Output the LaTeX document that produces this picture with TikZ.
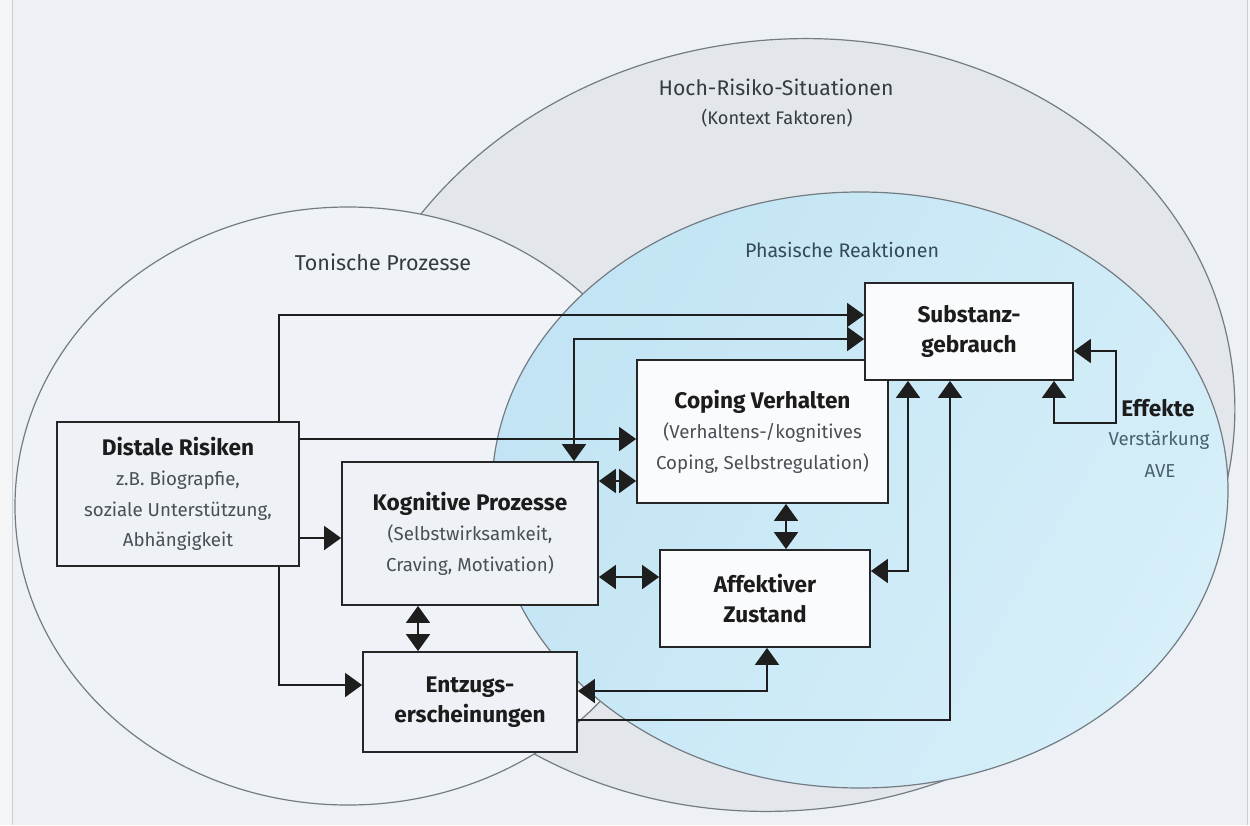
\documentclass[tikz,border=0pt]{standalone}
\usepackage{fontspec}
\setmainfont{Fira Sans}
\usetikzlibrary{arrows.meta}

\definecolor{outerbg}{HTML}{F3F5F7}
\definecolor{pagebg}{HTML}{EDF1F5}
\definecolor{pageedge}{HTML}{C9CED3}
\definecolor{riskfill}{HTML}{E3E7EB}
\definecolor{tonicfill}{HTML}{EFF2F6}
\definecolor{phaseA}{HTML}{C2E4F4}
\definecolor{phaseB}{HTML}{D6EFF9}
\definecolor{ringline}{HTML}{737B83}
\definecolor{boxline}{HTML}{262626}
\definecolor{wirecol}{HTML}{1E1E1E}
\definecolor{greybox}{HTML}{EEF2F6}
\definecolor{whitebox}{HTML}{FAFBFC}
\definecolor{titleblack}{HTML}{1C1C1C}
\definecolor{bodygrey}{HTML}{4A4F56}
\definecolor{labelgrey}{HTML}{353A40}
\definecolor{labelblue}{HTML}{34495B}
\definecolor{notegrey}{HTML}{4C5F6E}

\newcommand\boxtitle{\fontsize{22.6}{31}\selectfont\bfseries\color{titleblack}}
\newcommand\boxbody{\fontsize{18.7}{30.5}\selectfont}

\begin{document}
\begin{tikzpicture}[x=1pt,y=-1pt,
  ring/.style={draw=ringline, line width=1.2pt},
  box/.style={draw=boxline, line width=1.8pt, align=center, inner sep=0pt,
              font=\boxbody, text=bodygrey},
  greyrect/.style={box, fill=greybox},
  whiterect/.style={box, fill=whitebox},
  wire/.style={draw=wirecol, line width=1.8pt},
  onehead/.style={wire, -{Triangle[length=17pt,width=24pt]}},
  twoheads/.style={wire, {Triangle[length=17pt,width=24pt]}-{Triangle[length=17pt,width=24pt]}},
  label/.style={inner sep=0pt, font=\fontsize{20.5}{24}\selectfont, text=labelgrey}
]
\useasboundingbox (0,0) rectangle (1250,825);

% paper
\fill[outerbg] (0,0) rectangle (1250,825);
\fill[pagebg] (12,0) rectangle (1247,825);
\draw[pageedge, line width=0.8pt] (12,0) -- (12,825);
\draw[pageedge, line width=0.8pt] (1247,0) -- (1247,825);

% context ellipse (high risk situations)
\draw[ring, fill=riskfill] [shift={(786,425)}, rotate=8] (0,0) ellipse [x radius=450pt, y radius=385pt];
% tonic processes
\draw[ring, fill=tonicfill] (348,506) ellipse [x radius=333pt, y radius=299pt];
% phasic reactions
\shade[left color=phaseA, right color=phaseB, shading angle=60] (860,490) ellipse [x radius=368pt, y radius=298pt];
\draw[ring] (860,490) ellipse [x radius=368pt, y radius=298pt];

% region labels
\node[label, font=\fontsize{21.2}{26}\selectfont] (hrs) at (776,87) {Hoch-Risiko-Situationen};
\node[label, font=\fontsize{18.2}{22}\selectfont] (ctx) at (777,118) {(Kontext Faktoren)};
\node[label, font=\fontsize{21.5}{26}\selectfont] (ton) at (383,262) {Tonische Prozesse};
\node[label, font=\fontsize{19.6}{24}\selectfont, text=labelblue] (pha) at (842,250) {Phasische Reaktionen};

% boxes
\node[greyrect, minimum width=242pt, minimum height=144pt] (dist) at (178,494)
  {{\boxtitle Distale Risiken}\\ z.B. Biograpfie,\\ soziale Unterstützung,\\ Abhängigkeit};
\node[greyrect, minimum width=256pt, minimum height=143pt] (kog) at (470,533.5)
  {{\boxtitle Kognitive Prozesse}\\ (Selbstwirksamkeit,\\ Craving, Motivation)};
\node[whiterect, minimum width=251pt, minimum height=143pt] (cop) at (762.5,431.5)
  {{\boxtitle Coping Verhalten}\\ (Verhaltens-/kognitives\\ Coping, Selbstregulation)};
\node[whiterect, minimum width=208pt, minimum height=97pt] (sub) at (969,331.5)
  {{\boxtitle Substanz-}\\ {\boxtitle gebrauch}};
\node[whiterect, minimum width=210pt, minimum height=97pt] (aff) at (765,598.5)
  {{\boxtitle Affektiver}\\ {\boxtitle Zustand}};
\node[greyrect, minimum width=214pt, minimum height=100pt] (ent) at (470,702)
  {{\boxtitle Entzugs-}\\ {\boxtitle erscheinungen}};

% effects note
\node[inner sep=0pt, font=\boxtitle] (eff) at (1158,408) {Effekte};
\node[inner sep=0pt, font=\boxbody, text=notegrey] (verst) at (1159,440) {Verstärkung};
\node[inner sep=0pt, font=\boxbody, text=notegrey] (ave) at (1160,471) {AVE};

% routing columns and rows
\coordinate (xa) at (279,0);
\coordinate (xk) at (574,0);
\coordinate (xke) at (418,0);
\coordinate (xca) at (786,0);
\coordinate (xas) at (908,0);
\coordinate (xes) at (950,0);
\coordinate (xae) at (767,0);
\coordinate (xl) at (1054,0);
\coordinate (xr) at (1116,0);
\coordinate (ya) at (0,315);
\coordinate (yb) at (0,339);
\coordinate (ydc) at (0,439);
\coordinate (ydk) at (0,538);
\coordinate (yde) at (0,685);
\coordinate (ykc) at (0,481);
\coordinate (yka) at (0,577);
\coordinate (yas) at (0,571);
\coordinate (yes) at (0,720);
\coordinate (yae) at (0,691);
\coordinate (ylb) at (0,423);
\coordinate (ylt) at (0,351);

% connectors
\draw[onehead] (xa |- dist.north) -- (xa |- ya) -- (sub.west |- ya);
\draw[twoheads] (xk |- kog.north) -- (xk |- yb) -- (sub.west |- yb);
\draw[onehead] (dist.east |- ydc) -- (cop.west |- ydc);
\draw[onehead] (dist.east |- ydk) -- (kog.west |- ydk);
\draw[onehead] (xa |- dist.south) -- (xa |- yde) -- (ent.west |- yde);
\draw[twoheads] (kog.east |- ykc) -- (cop.west |- ykc);
\draw[twoheads] (kog.east |- yka) -- (aff.west |- yka);
\draw[twoheads] (xke |- kog.south) -- (xke |- ent.north);
\draw[twoheads] (xca |- cop.south) -- (xca |- aff.north);
\draw[twoheads] (aff.east |- yas) -- (xas |- yas) -- (xas |- sub.south);
\draw[onehead] (ent.east |- yes) -- (xes |- yes) -- (xes |- sub.south);
\draw[twoheads] (xae |- aff.south) -- (xae |- yae) -- (ent.east |- yae);
\draw[twoheads] (xl |- sub.south) -- (xl |- ylb) -- (xr |- ylb) -- (xr |- ylt) -- (sub.east |- ylt);
\end{tikzpicture}
\end{document}
